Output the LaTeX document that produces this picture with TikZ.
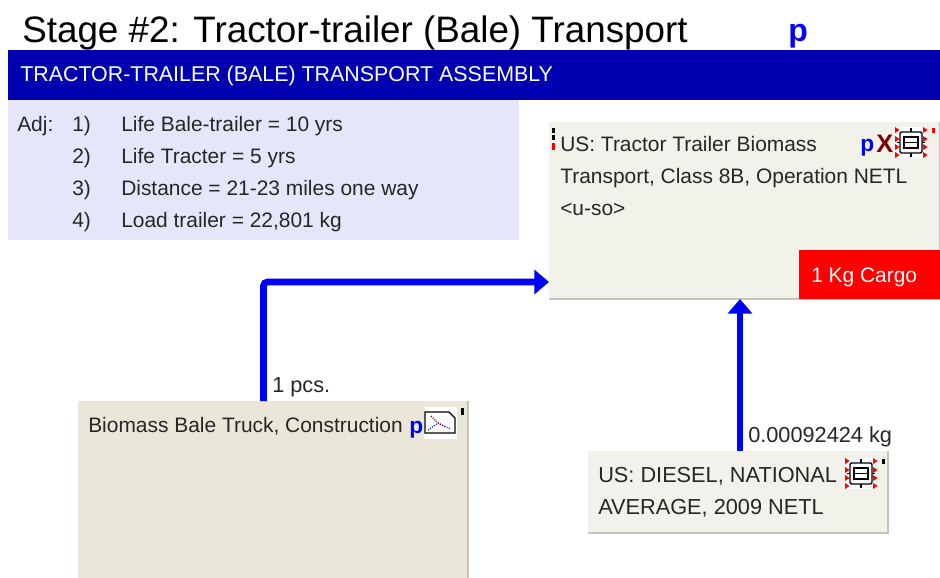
\documentclass[tikz,border=0pt]{standalone}
\usepackage{fontspec}
\setmainfont{Liberation Sans}
\usepackage{xcolor}
\usetikzlibrary{positioning, arrows.meta, calc}
\definecolor{barblue}{HTML}{0000B0}
\definecolor{linkblue}{HTML}{0000FF}
\definecolor{adjbg}{HTML}{E6E6FA}
\definecolor{unitbg}{HTML}{F2F1EA}
\definecolor{truckbg}{HTML}{EAE7D8}
\definecolor{edgegray}{HTML}{C4C4BE}
\definecolor{cargored}{HTML}{FF0000}
\definecolor{xred}{HTML}{800000}
\newcommand{\bodyfont}{\fontsize{15.7}{18}\selectfont}
\newcommand{\widefont}{\fontsize{16.3}{18}\selectfont}
\newcommand{\chipicon}[2]{%
  \begin{scope}[shift={(#1,#2)}]
    \fill[white] (1,-1) rectangle (29,30);
    \draw[chipline, rounded corners=1pt] (4,4) rectangle (26,25);
    \draw[chipline] (8,9) rectangle (22,20) (8,14.5) -- (22,14.5)
      (15,0) -- (15,4) (15,25) -- (15,29) (1,14.5) -- (4,14.5) (26,14.5) -- (29,14.5);
    \foreach \ty in {2,11,19,27} {
      \fill[redtick] (-1,\ty-3) -- (3.5,\ty) -- (-1,\ty+3) -- cycle;
      \fill[redtick] (27,\ty-3) -- (31.5,\ty) -- (27,\ty+3) -- cycle;
    }
  \end{scope}}

\begin{document}
\begin{tikzpicture}[
  x=0.75pt, y=-0.75pt,
  box/.style={anchor=north west, inner sep=0pt, outer sep=0pt},
  unitbox/.style={box, fill=unitbg},
  label/.style={anchor=base west, inner sep=0pt, font=\bodyfont, text=black!85},
  pmark/.style={anchor=base west, inner sep=0pt, text=linkblue, font=\fontsize{17}{20}\selectfont\bfseries},
  flow/.style={-{Triangle[length=11pt, width=18pt]}, linkblue, line width=5pt, rounded corners=3pt},
  chipline/.style={black, line width=1pt},
  redtick/.style={fill=cargored, draw=none}
]
\useasboundingbox (0,0) rectangle (940,578);

% Title and header bar
\node[label, font=\fontsize{27.6}{30}\selectfont, text=black] (title) at (22,42)
  {Stage \#2: Tractor-trailer (Bale) Transport};
\node[pmark, font=\fontsize{24}{26}\selectfont\bfseries] (titlep) at (788,41) {p};
\node[box, fill=barblue, minimum width=699pt, minimum height=37.5pt] (bar) at (8,50) {};
\node[label, font=\fontsize{16.05}{18}\selectfont, text=white] (bartext) at (20,81) {TRACTOR-TRAILER (BALE) TRANSPORT ASSEMBLY};

% Adjustments panel
\node[box, fill=adjbg, minimum width=383.25pt, minimum height=105pt] (adj) at (8,100) {};
\node[label] (adjlabel) at (17,131) {Adj:};
\node[label] (n1) at (72,131) {1)};
\node[label] (n2) at (72,163) {2)};
\node[label] (n3) at (72,195) {3)};
\node[label] (n4) at (72,227) {4)};
\node[label] (a1) at (121,131) {Life Bale-trailer = 10 yrs};
\node[label] (a2) at (121,163) {Life Tracter = 5 yrs};
\node[label] (a3) at (121,195) {Distance = 21-23 miles one way};
\node[label] (a4) at (121,227) {Load trailer = 22,801 kg};

% Transport unit
\node[box, fill=edgegray, minimum width=293.25pt, minimum height=133.5pt] (unitedge) at (549,122) {};
\node[unitbox, minimum width=292.5pt, minimum height=132pt] (unit) at (549,122) {};
\node[box, fill=cargored, minimum width=105.75pt, minimum height=37pt] (cargo) at (799,250) {};
\node[label, text=white] (cargotext) at (811,282) {1 Kg Cargo};
\node[label] (u1) at (560,151) {US: Tractor Trailer Biomass};
\node[label] (u2) at (560,183) {Transport, Class 8B, Operation NETL};
\node[label] (u3) at (560,215) {<u-so>};
\fill[black] (552,128) rectangle (555,133);
\fill[black] (552,135) rectangle (555,140);
\fill[cargored] (552,143) rectangle (555,150);
\node[pmark] (up) at (860,151) {p};
\node[anchor=base west, inner sep=0pt, text=xred, font=\fontsize{19}{20}\selectfont\bfseries] (ux) at (876,152) {X};
\chipicon{896}{128}
\fill[cargored] (932,128) rectangle (935,133);

% Truck construction
\node[box, fill=edgegray, minimum width=293pt, minimum height=133pt] (truckedge) at (78,401) {};
\node[box, fill=truckbg, minimum width=291.75pt, minimum height=133pt] (truck) at (78,401) {};
\node[label] (t1) at (88,432) {Biomass Bale Truck, Construction};
\node[pmark] (tp) at (409,433) {p};
\fill[white] (424,407) rectangle (457,439);
\draw[black, line width=0.9pt] (425,412) -- (449,412) -- (455,418) -- (455,433) -- (425,433) -- cycle;
\draw[linkblue, line width=0.8pt, densely dotted] (428,430) -- (438,423) -- (451,429);
\draw[xred, line width=0.8pt, densely dotted] (431,416) -- (438,423) -- (445,427);
\fill[black] (461,408) rectangle (464,415);

% Diesel input
\node[box, fill=edgegray, minimum width=225.75pt, minimum height=62.25pt] (dieseledge) at (588,451) {};
\node[unitbox, minimum width=224.25pt, minimum height=61pt] (diesel) at (588,451) {};
\node[label, font=\widefont] (d1) at (598,482) {US: DIESEL, NATIONAL};
\node[label, font=\widefont] (d2) at (598,514) {AVERAGE, 2009 NETL};
\chipicon{846}{459}
\fill[black] (882,459) rectangle (885,464);

% Flows
\coordinate (truckout) at (263.5,401);
\coordinate (unitinw) at (549,282);
\coordinate (dieselout) at (740,451);
\coordinate (unitins) at (740,299);
\draw[flow] (truckout) |- (unitinw);
\draw[flow] (dieselout) -- (unitins);
\node[label, font=\widefont] (pcs) at (272,392) {1 pcs.};
\node[label, font=\widefont] (kg) at (748,442) {0.00092424 kg};

\end{tikzpicture}
\end{document}
